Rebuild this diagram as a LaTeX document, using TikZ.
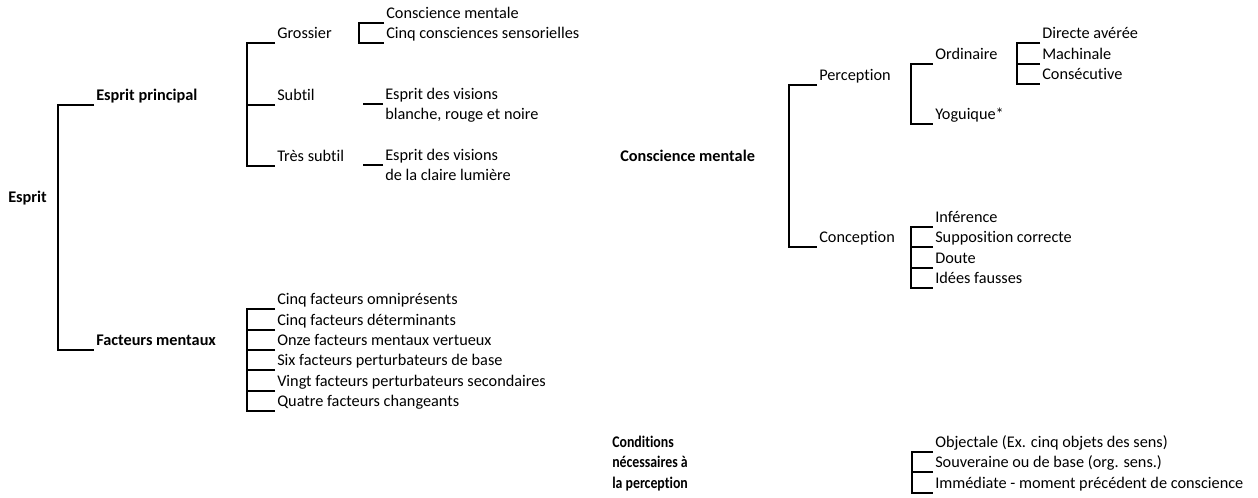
\documentclass[tikz,border=0pt]{standalone}
\usepackage{fontspec}
\setmainfont{Carlito}[Ligatures=NoCommon]
\newfontfamily\condbf[FakeStretch=0.85,Ligatures=NoCommon]{Carlito}
\tikzset{
  lbl/.style={anchor=base west, inner xsep=1.5pt, inner ysep=0pt, text depth=0.3em,
    font=\fontsize{12.2}{14}\selectfont},
  titre/.style={lbl, font=\fontsize{12.2}{14}\selectfont\bfseries},
  titrecond/.style={lbl, font=\fontsize{12.2}{14}\condbf\bfseries},
  branche/.style={line width=1.5pt},
}

\begin{document}
\begin{tikzpicture}[x=0.75pt,y=-0.75pt]
	\useasboundingbox (0,0) rectangle (1258,498);

	% Esprit
	\node[titre] (esprit) at (6,203) {Esprit};
	\node[titre] (princ) at (94,101) {Esprit principal};
	\node[titre] (fact) at (94,346) {Facteurs mentaux};
	\draw[branche] (princ.south west) -- ++(-36,0) |- (fact.south west);

	% esprit principal
	\node[lbl] (gros) at (275,39) {Grossier};
	\node[lbl] (subtil) at (275,101) {Subtil};
	\node[lbl] (tsubtil) at (275,162) {Très subtil};
	\draw[branche] (gros.south west) -- ++(-28,0) |- (tsubtil.south west);
	\draw[branche] (subtil.south west) -- ++(-28,0);

	\node[lbl] (cm) at (384,19) {Conscience mentale};
	\node[lbl] (ccs) at (384,39) {Cinq consciences sensorielles};
	\draw[branche] (cm.south west) -- ++(-25,0) |- (ccs.south west);

	\node[lbl] (visA) at (383,100) {Esprit des visions};
	\node[lbl] (visA2) at (383,120) {blanche, rouge et noire};
	\node[lbl] (visB) at (383,161) {Esprit des visions};
	\node[lbl] (visB2) at (383,181) {de la claire lumière};
	\draw[branche] (visA.south west) -- ++(-20,0);
	\draw[branche] (visB.south west) -- ++(-20,0);

	% facteurs mentaux
	\node[lbl] (f1) at (275,305) {Cinq facteurs omniprésents};
	\node[lbl] (f2) at (275,325.5) {Cinq facteurs déterminants};
	\node[lbl] (f3) at (275,346) {Onze facteurs mentaux vertueux};
	\node[lbl] (f4) at (275,366) {Six facteurs perturbateurs de base};
	\node[lbl] (f5) at (275,386.5) {Vingt facteurs perturbateurs secondaires};
	\node[lbl] (f6) at (275,407) {Quatre facteurs changeants};
	\draw[branche] (f1.south west) -- ++(-28,0) |- (f6.south west);
	\foreach \i in {2,...,5}
		\draw[branche] (f\i.south west) -- ++(-28,0);

	% conscience mentale
	\node[titre] (consc) at (618,162) {Conscience mentale};
	\node[lbl] (perc) at (817,81) {Perception};
	\node[lbl] (conc) at (817,243) {Conception};
	\draw[branche] (perc.south west) -- ++(-28,0) |- (conc.south west);

	\node[lbl] (ordi) at (933,60) {Ordinaire};
	\node[lbl] (yogi) at (933,120) {Yoguique*};
	\draw[branche] (ordi.south west) -- ++(-22,0) |- (yogi.south west);

	\node[lbl] (dir) at (1040,39) {Directe avérée};
	\node[lbl] (mach) at (1040,59.5) {Machinale};
	\node[lbl] (cons) at (1040,80) {Consécutive};
	\draw[branche] (dir.south west) -- ++(-23,0) |- (cons.south west);
	\draw[branche] (mach.south west) -- ++(-23,0);

	\node[lbl] (inf) at (933,223) {Inférence};
	\node[lbl] (supp) at (933,243) {Supposition correcte};
	\node[lbl] (dout) at (933,264) {Doute};
	\node[lbl] (idee) at (933,284) {Idées fausses};
	\draw[branche] (inf.south west) -- ++(-22,0) |- (idee.south west);
	\draw[branche] (supp.south west) -- ++(-22,0);
	\draw[branche] (dout.south west) -- ++(-22,0);

	% conditions
	\node[titrecond] (condA) at (610,448) {Conditions};
	\node[titrecond] (condB) at (610,468) {nécessaires à};
	\node[titrecond] (condC) at (610,489) {la perception};
	\node[lbl] (obj) at (933,448) {Objectale (Ex. cinq objets des sens)};
	\node[lbl] (souv) at (933,468) {Souveraine ou de base (org. sens.)};
	\node[lbl] (imm) at (933,489) {Immédiate - moment précédent de conscience};
	\draw[branche] (obj.south west) -- ++(-21,0) |- (imm.south west);
	\draw[branche] (souv.south west) -- ++(-21,0);
\end{tikzpicture}
\end{document}
